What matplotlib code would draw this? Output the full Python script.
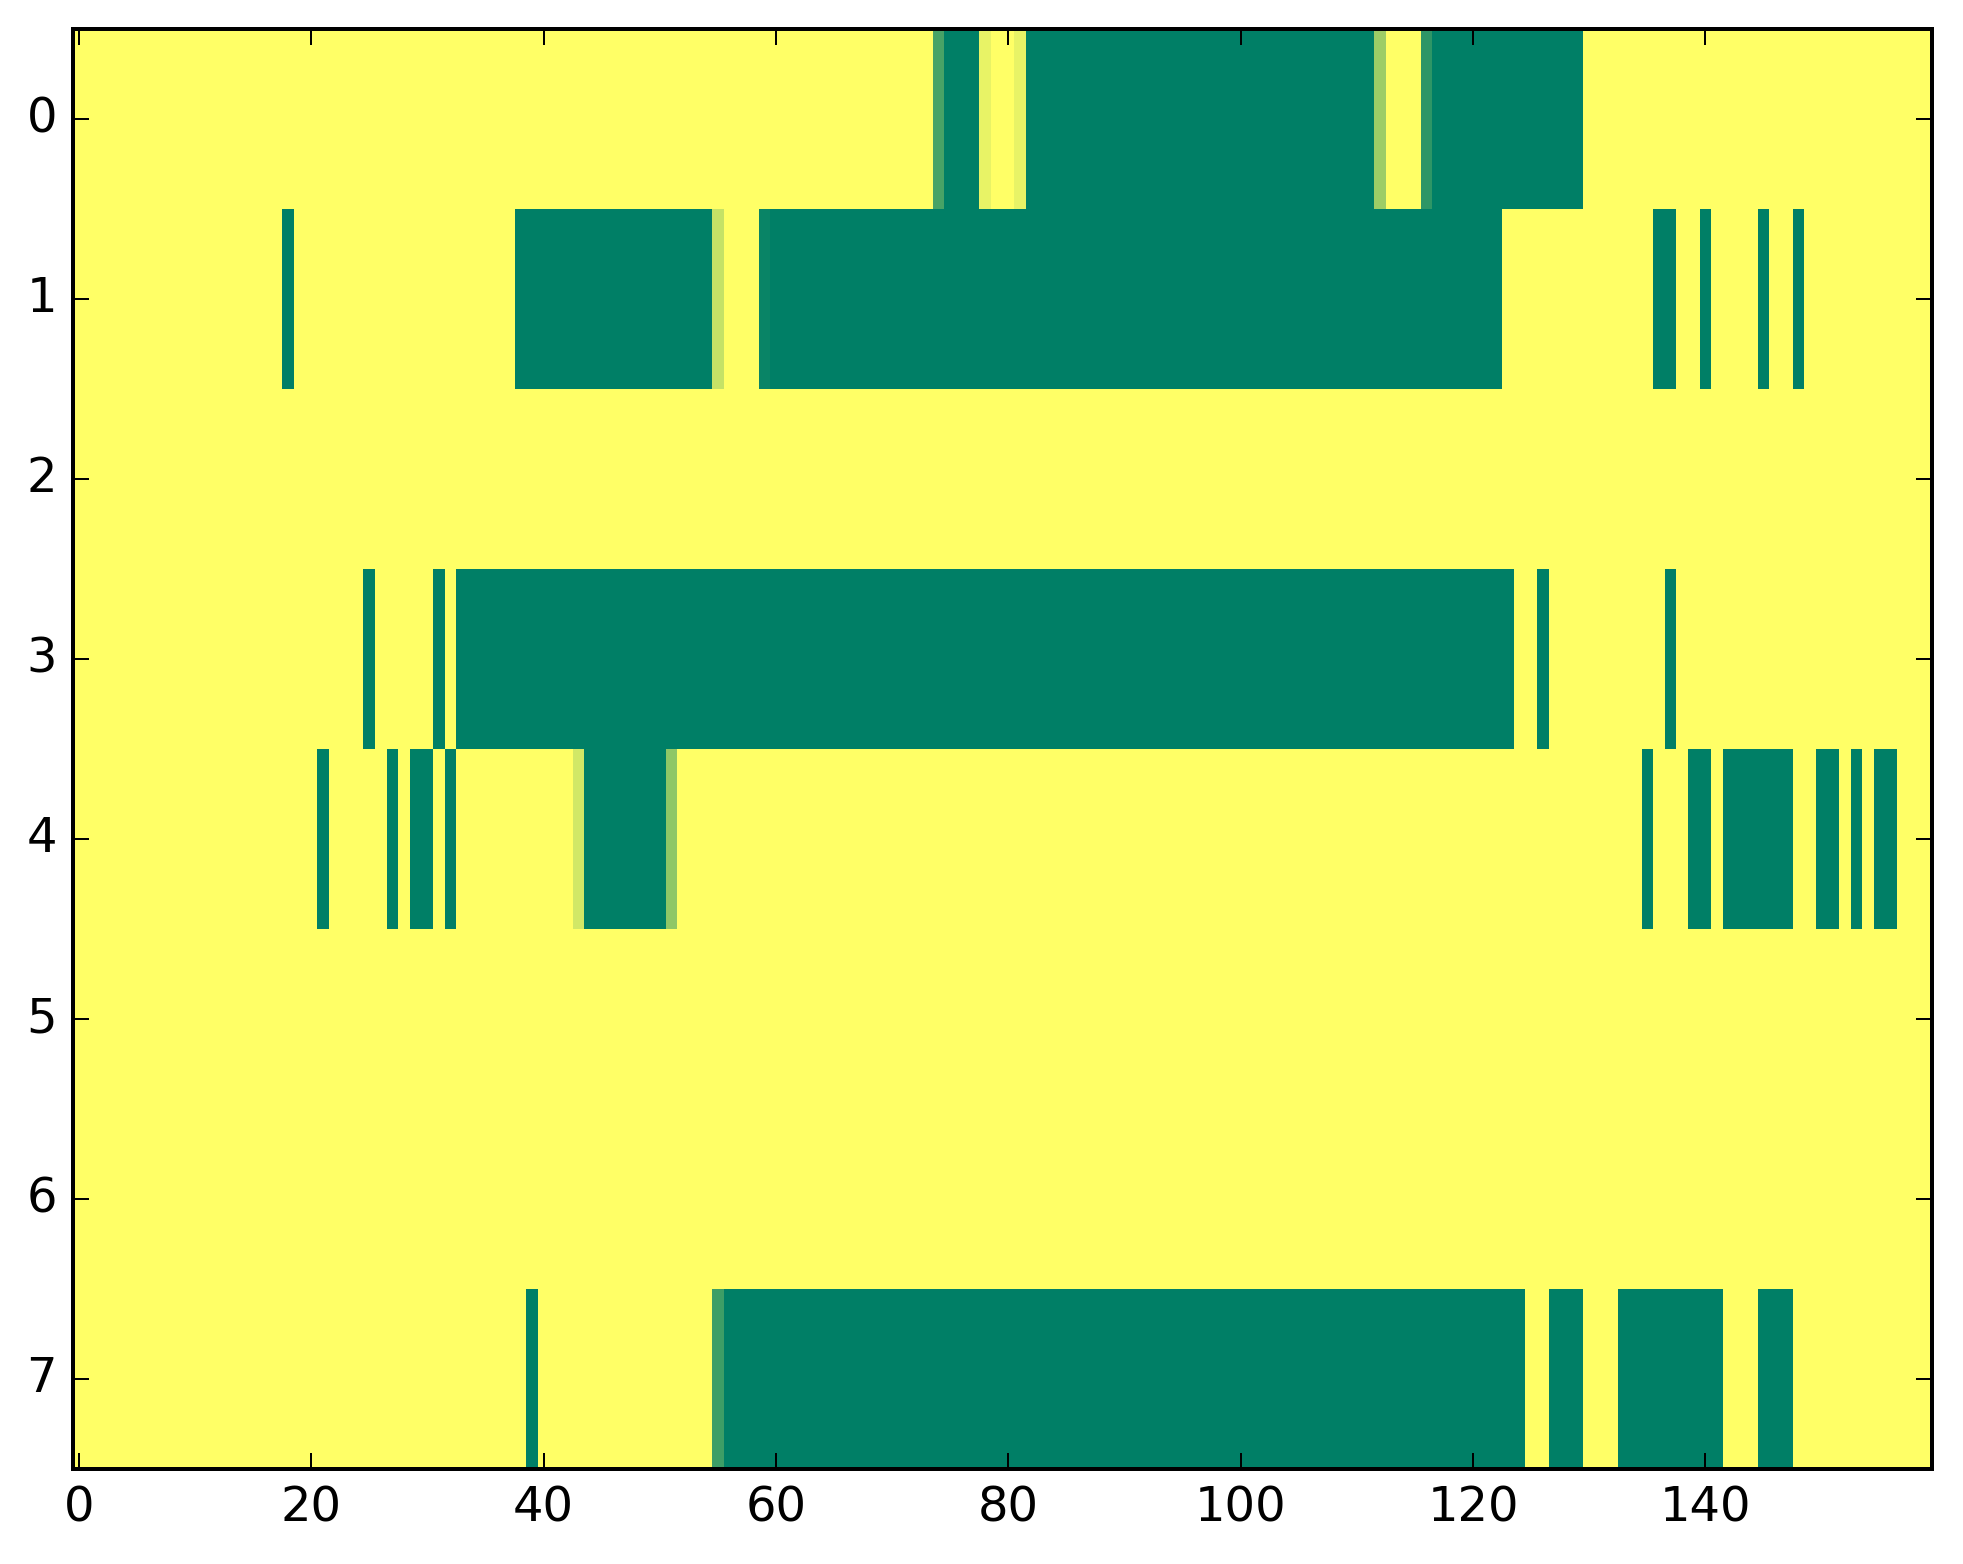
import numpy as np
import matplotlib
matplotlib.use('Agg')
import matplotlib.pyplot as plt

plt.style.use('classic')

n_rows = 8
n_cols = 160

# runs of filled cells per row: (first column, last column, value)
row0_runs = [(74, 74, 0.72), (75, 77, 1.0), (78, 78, 0.09), (81, 81, 0.09),
             (82, 111, 1.0), (112, 112, 0.39), (116, 116, 0.82), (117, 129, 1.0)]
row1_runs = [(18, 18, 1.0), (38, 54, 1.0), (55, 55, 0.23), (59, 59, 0.96),
             (60, 122, 1.0), (136, 137, 1.0), (140, 140, 1.0), (145, 145, 1.0),
             (148, 148, 1.0)]
row2_runs = []
row3_runs = [(25, 25, 1.0), (31, 31, 1.0), (33, 123, 1.0), (126, 126, 1.0),
             (137, 137, 1.0)]
row4_runs = [(21, 21, 1.0), (27, 27, 1.0), (29, 30, 1.0), (32, 32, 1.0),
             (43, 43, 0.18), (44, 50, 1.0), (51, 51, 0.44), (135, 135, 1.0),
             (139, 140, 1.0), (142, 147, 1.0), (150, 151, 1.0), (153, 153, 1.0),
             (155, 156, 1.0)]
row5_runs = []
row6_runs = []
row7_runs = [(39, 39, 1.0), (55, 55, 0.76), (56, 124, 1.0), (127, 129, 1.0),
             (133, 141, 1.0), (145, 147, 1.0)]

all_runs = [row0_runs, row1_runs, row2_runs, row3_runs,
            row4_runs, row5_runs, row6_runs, row7_runs]

grid = np.zeros((n_rows, n_cols))
for r, runs in enumerate(all_runs):
    for start, end, val in runs:
        grid[r, start:end + 1] = val

dpi = 288
fig = plt.figure(figsize=(1963 / dpi, 1564 / dpi), dpi=dpi)
ax = fig.add_axes([73 / 1963, 1 - 1469 / 1564, (1932 - 73) / 1963, (1469 - 29) / 1564])
ax.imshow(grid, cmap='summer_r', vmin=0, vmax=1, aspect='auto',
          interpolation='nearest')
ax.set_xticks(np.arange(0, 141, 20))
ax.set_yticks(np.arange(0, 8))
ax.set_xlim(-0.5, n_cols - 0.5)
ax.set_ylim(n_rows - 0.5, -0.5)

fig.savefig('out.png', dpi=dpi)
